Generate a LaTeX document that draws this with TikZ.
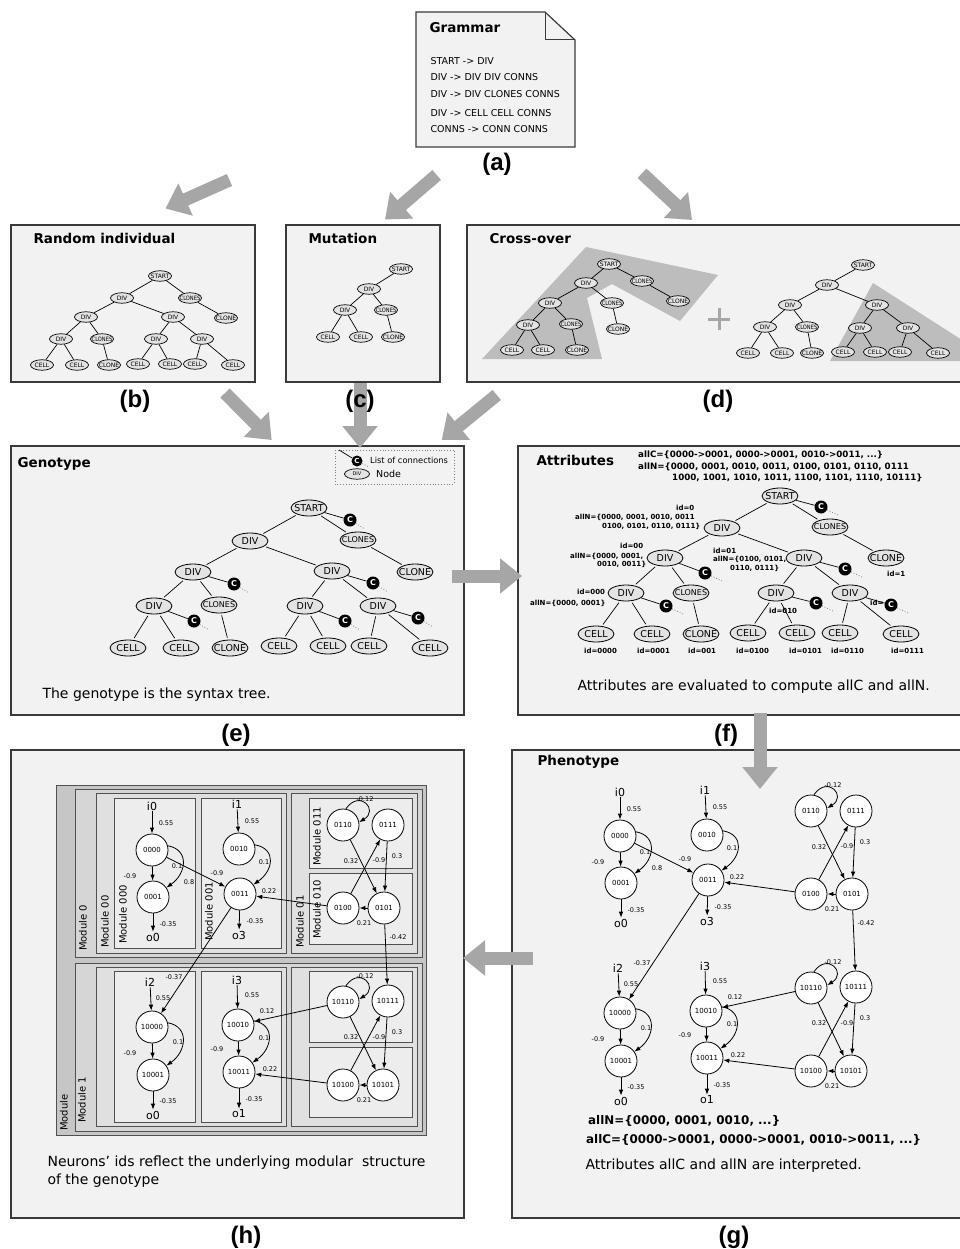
\documentclass[tikz,border=0pt]{standalone}
\usepackage{fontspec}
\usepackage{graphicx}
\setmainfont{DejaVu Sans}
\newfontfamily\panelfont{Liberation Sans}
\usetikzlibrary{arrows.meta,shapes.geometric}

\definecolor{panelbg}{HTML}{F2F2F2}
\definecolor{panelline}{HTML}{3A3A3A}
\definecolor{nodefill}{HTML}{E3E3E3}
\definecolor{flowgray}{HTML}{A6A6A6}
\definecolor{pickgray}{HTML}{BDBDBD}
\definecolor{modA}{HTML}{C6C6C6}
\definecolor{modB}{HTML}{D6D6D6}
\definecolor{modC}{HTML}{E0E0E0}
\definecolor{modD}{HTML}{EDEDED}
\definecolor{modline}{HTML}{505050}

\newcommand\fsz[1]{\fontsize{#1}{#1}\selectfont}
\newcommand\squeeze[1]{\scalebox{0.85}[1]{#1}}
% tree nodes of fixed size: the label never widens the ellipse
\newcommand\smallnd[3]{\node[smalln] (#1) at (#2) {\makebox[0pt]{#3}};}
\newcommand\bignd[3]{\node[bign] (#1) at (#2) {\makebox[0pt]{#3}};}
% connection list: black C disc hung on its parent, with a dotted tail
\newcommand\connnd[4]{%
  \node[conn] (#1) at (#2) {C};
  \draw[tedge] (#3) -- (#1);
  \path (#1) ++(#4) coordinate (#1e);
  \draw[dots] (#1) -- (#1e);}

\tikzset{
  panel/.style={draw=panelline, line width=1.3pt, fill=panelbg},
  smalln/.style={ellipse, draw=black, line width=0.7pt, fill=nodefill,
    minimum width=23pt, minimum height=10.5pt, inner sep=0pt, font=\fsz{6}},
  bign/.style={ellipse, draw=black, line width=0.8pt, fill=nodefill,
    minimum width=36pt, minimum height=16pt, inner sep=0pt, font=\fsz{9.5}},
  tedge/.style={line width=0.7pt},
  conn/.style={circle, fill=black, minimum size=13pt, inner sep=0pt,
    text=white, font=\bfseries\fsz{8}},
  dots/.style={dotted, line width=0.8pt, draw=gray},
  flow/.style={draw=flowgray, line width=13pt, -{Triangle[length=22pt,width=34pt]}},
  ptitle/.style={anchor=west, font=\bfseries\fsz{13.5}},
  pcap/.style={anchor=west, font=\fsz{14}},
  plabel/.style={font=\panelfont\bfseries\fsz{24}},
  rule/.style={anchor=west, font=\fsz{9.5}},
  attrtop/.style={anchor=west, font=\bfseries\fsz{8.7}, inner sep=0pt},
  attr/.style={anchor=west, font=\bfseries\fsz{7}, inner sep=0pt},
  neuron/.style={circle, draw=black, line width=0.8pt, fill=white,
    minimum size=32pt, inner sep=0pt, font=\fsz{7}},
  io/.style={font=\fsz{11}, inner sep=1pt},
  wt/.style={font=\fsz{6.5}, inner sep=0pt},
  syn/.style={line width=0.8pt, -{Latex[length=6pt,width=4.5pt]}},
  modbox/.style={draw=modline, line width=0.9pt},
  modlab/.style={rotate=90, anchor=west, font=\fsz{10}, inner sep=0pt},
}

% the modular recurrent network (phenotype), node names prefixed by #1
\newcommand\neuralnet[1]{%
  \foreach \nm/\x/\y in {0000/620/836, 0001/621/883, 0010/707/835, 0011/708/880,
      0110/811/811, 0111/856/811, 0100/811/894, 0101/852/894,
      10000/620/1013, 10001/621/1061, 10010/706/1011, 10011/707/1058,
      10110/811/988, 10111/856/987, 10100/811/1071, 10101/851/1071}
    \node[neuron] (#1n\nm) at (\x,\y) {\nm};
  \foreach \nm/\x/\y/\t in {i0/620/792/i0, o0/621/923/o0, i1/705/790/i1, o3/707/921/o3,
      i2/618/968/i2, o0b/621/1101/o0, i3/705/966/i3, o1/707/1100/o1}
    \node[io] (#1\nm) at (\x,\y) {\t};
  \foreach \a/\b in {i0/n0000, n0001/o0, i1/n0010, n0011/o3,
      i2/n10000, n10001/o0b, i3/n10010, n10011/o1,
      n0000/n0001, n0000/n0011, n0100/n0011, n0110/n0101, n0100/n0111,
      n0111/n0101, n0101/n0100, n0101/n10111, n0011/n10000,
      n10000/n10001, n10010/n10011, n10110/n10010, n10100/n10011,
      n10110/n10101, n10100/n10111, n10111/n10101, n10101/n10100}
    \draw[syn] (#1\a) -- (#1\b);
  \draw[syn] (#1n0000.15) .. controls +(22,4) and +(20,-14) .. (#1n0001.35);
  \draw[syn] (#1n0010.15) .. controls +(22,4) and +(20,-14) .. (#1n0011.35);
  \draw[syn] (#1n10000.15) .. controls +(22,4) and +(20,-14) .. (#1n10001.35);
  \draw[syn] (#1n10010.15) .. controls +(22,4) and +(20,-14) .. (#1n10011.35);
  \draw[syn] (#1n0110.80) .. controls +(14,-20) and +(20,-12) .. (#1n0110.10);
  \draw[syn] (#1n10110.80) .. controls +(14,-20) and +(20,-12) .. (#1n10110.10);
  \foreach \x/\y/\t [count=\k] in {634/809/0.55, 598/862/-0.9, 645/852/0.1, 657/868/0.8,
      636/910/-0.35, 720/807/0.55, 732/848/0.1, 685/859/-0.9, 737/877/0.22, 723/907/-0.35,
      833/785/-0.12, 819/847/0.32, 847/846/-0.9, 865/842/0.3, 832/909/0.21, 866/923/-0.42,
      642/963/-0.37, 631/984/0.55, 646/1028/0.1, 598/1039/-0.9, 636/1087/-0.35,
      720/981/0.55, 735/997/0.12, 732/1024/0.1, 685/1035/-0.9, 738/1055/0.22, 722/1085/-0.35,
      833/962/-0.12, 819/1023/0.32, 847/1023/-0.9, 865/1018/0.3, 832/1086/0.21}
    \node[wt] (#1w\k) at (\x,\y) {\t};
}

\begin{document}
\begin{tikzpicture}[x=1pt,y=-1pt]
\fill[white] (0,0) rectangle (960,1249);
\useasboundingbox (0,0) rectangle (960,1249);

% ---------- grammar sheet ----------
\path[draw=panelline, line width=1.2pt, fill=panelbg]
  (416,12) -- (545,12) -- (575,40) -- (575,147) -- (416,147) -- cycle;
\draw[panelline, line width=1pt] (545,12) -- (545,40) -- (575,40);
\node[ptitle] (gramT) at (426,28) {Grammar};
\node[rule] (r1) at (427,61) {START -> DIV};
\node[rule] (r2) at (427,77) {DIV -> DIV DIV CONNS};
\node[rule] (r3) at (427,94) {DIV -> DIV CLONES CONNS};
\node[rule] (r4) at (427,113) {DIV -> CELL CELL CONNS};
\node[rule] (r5) at (427,129) {CONNS -> CONN CONNS};

% ---------- panels ----------
\path[panel] (11,225) rectangle (255,382);
\path[panel] (286,225) rectangle (440,382);
\path[panel] (467,225) rectangle (965,382);
\path[panel] (11,446) rectangle (464,715);
\path[panel] (518,446) rectangle (965,715);
\path[panel] (11,750) rectangle (464,1218);
\path[panel] (512,750) rectangle (965,1218);

% ---------- flow arrows ----------
\coordinate (fa1) at (229.5,180);  \coordinate (fb1) at (165.5,208.5);
\coordinate (fa2) at (436.7,175);  \coordinate (fb2) at (385,219.5);
\coordinate (fa3) at (642,173.3);  \coordinate (fb3) at (692,220);
\coordinate (fa4) at (225,393);    \coordinate (fb4) at (271.7,440);
\coordinate (fa5) at (360,383);    \coordinate (fb5) at (360,448);
\coordinate (fa6) at (496.7,395);  \coordinate (fb6) at (441.7,440);
\coordinate (fa7) at (452,576);    \coordinate (fb7) at (522,576);
\coordinate (fa8) at (760,713);    \coordinate (fb8) at (760,789);
\coordinate (fa9) at (533,958);    \coordinate (fb9) at (463,958);
\foreach \i in {1,...,9} \draw[flow] (fa\i) -- (fb\i);

% ---------- panel letters ----------
\node[plabel] (la) at (497,164) {(a)};
\node[plabel] (lb) at (135,401) {(b)};
\node[plabel] (lc) at (360,401) {(c)};
\node[plabel] (ld) at (718,401) {(d)};
\node[plabel] (le) at (236,735) {(e)};
\node[plabel] (lf) at (726,735) {(f)};
\node[plabel] (lg) at (734,1237) {(g)};
\node[plabel] (lh) at (246,1237) {(h)};

% ---------- (b) random individual ----------
\node[ptitle] (tb) at (30,238) {Random individual};
\smallnd{rS}{160,276}{START}
\smallnd{rD1}{122,298}{DIV}
\smallnd{rCs1}{190,298}{\squeeze{CLONES}}
\smallnd{rCl1}{226,318}{CLONE}
\smallnd{rD2a}{86,317}{DIV}
\smallnd{rD2b}{173,317}{DIV}
\smallnd{rD3a}{61,339}{DIV}
\smallnd{rCs3}{102,339}{\squeeze{CLONES}}
\smallnd{rD3b}{156,339}{DIV}
\smallnd{rD3c}{202,339}{DIV}
\smallnd{rL1}{42,365}{CELL}
\smallnd{rL2}{77,365}{CELL}
\smallnd{rL3}{109,365}{CLONE}
\smallnd{rL4}{138,364}{CELL}
\smallnd{rL5}{170,364}{CELL}
\smallnd{rL6}{195,364}{CELL}
\smallnd{rL7}{233,365}{CELL}
\foreach \a/\b in {S/D1, S/Cs1, Cs1/Cl1, D1/D2a, D1/D2b, D2a/D3a, D2a/Cs3,
    D3a/L1, D3a/L2, Cs3/L3, D2b/D3b, D2b/D3c, D3b/L4, D3b/L5, D3c/L6, D3c/L7}
  \draw[tedge] (r\a) -- (r\b);

% ---------- (c) mutation ----------
\node[ptitle] (tc) at (305,238) {Mutation};
\smallnd{mS}{401,269}{START}
\smallnd{mD1}{369,289}{DIV}
\smallnd{mD2}{345,310}{DIV}
\smallnd{mCs}{386,310}{\squeeze{CLONES}}
\smallnd{mL1}{328,337}{CELL}
\smallnd{mL2}{361,337}{CELL}
\smallnd{mL3}{393,337}{CLONE}
\foreach \a/\b in {S/D1, D1/D2, D1/Cs, D2/L1, D2/L2, Cs/L3}
  \draw[tedge] (m\a) -- (m\b);

% ---------- (d) cross-over ----------
\node[ptitle] (td) at (486,239) {Cross-over};
\fill[pickgray] (482,359) -- (586,247) -- (718,275) -- (680,321) -- (612,284)
  -- (587,298) -- (602,359) -- cycle;
\fill[pickgray] (830,361) -- (873,283) -- (962,340) -- (962,361) -- cycle;
\draw[flowgray, line width=3pt] (708,319) -- (730,319) (719,308) -- (719,330);
\smallnd{xS}{609,264}{START}
\smallnd{xD1}{586,283}{DIV}
\smallnd{xCs1}{642,281}{\squeeze{CLONES}}
\smallnd{xCl1}{678,301}{CLONE}
\smallnd{xCs2}{612,303}{\squeeze{CLONES}}
\smallnd{xCl2}{618,329}{CLONE}
\smallnd{xD2}{550,303}{DIV}
\smallnd{xD3}{528,325}{DIV}
\smallnd{xCs3}{571,324}{\squeeze{CLONES}}
\smallnd{xL1}{512,350}{CELL}
\smallnd{xL2}{543,350}{CELL}
\smallnd{xL3}{577,350}{CLONE}
\foreach \a/\b in {S/D1, S/Cs1, Cs1/Cl1, D1/D2, D1/Cs2, Cs2/Cl2, D2/D3, D2/Cs3,
    D3/L1, D3/L2, Cs3/L3}
  \draw[tedge] (x\a) -- (x\b);
\smallnd{yS}{863,265}{START}
\smallnd{yD1}{827,285}{DIV}
\smallnd{yD2a}{790,305}{DIV}
\smallnd{yD2b}{877,305}{DIV}
\smallnd{yD3a}{765,327}{DIV}
\smallnd{yCs3}{807,327}{\squeeze{CLONES}}
\smallnd{yD3b}{860,328}{DIV}
\smallnd{yD3c}{908,328}{DIV}
\smallnd{yL1}{748,353}{CELL}
\smallnd{yL2}{782,353}{CELL}
\smallnd{yL3}{812,353}{CLONE}
\smallnd{yL4}{843,352}{CELL}
\smallnd{yL5}{875,352}{CELL}
\smallnd{yL6}{900,352}{CELL}
\smallnd{yL7}{938,353}{CELL}
\foreach \a/\b in {S/D1, D1/D2a, D1/D2b, D2a/D3a, D2a/Cs3, D3a/L1, D3a/L2, Cs3/L3,
    D2b/D3b, D2b/D3c, D3b/L4, D3b/L5, D3c/L6, D3c/L7}
  \draw[tedge] (y\a) -- (y\b);

% ---------- (e) genotype ----------
\node[ptitle] (te) at (14,464) {Genotype};
\draw[gray, dotted, line width=0.8pt] (335,450) rectangle (454,484);
\coordinate (legS) at (339,450);
\node[conn, minimum size=11pt, font=\bfseries\fsz{7}] (legC) at (357,461) {C};
\draw[tedge] (legS) -- (legC);
\path (legC) ++(12,6) coordinate (legCe);
\draw[dots] (legC) -- (legCe);
\node[anchor=west, font=\fsz{8.3}, inner sep=0pt] (legT1) at (370,460) {List of connections};
\node[smalln, minimum width=25pt, font=\fsz{5}] (legN) at (357,474) {\makebox[0pt]{DIV}};
\node[anchor=west, font=\fsz{9.5}, inner sep=0pt] (legT2) at (376,474) {Node};

\bignd{gS}{309,508}{START}
\bignd{gD1}{250,541}{DIV}
\bignd{gCs1}{358,540}{\fsz{8}CLONES}
\bignd{gCl1}{415,572}{CLONE}
\bignd{gD2a}{193,572}{DIV}
\bignd{gD2b}{332,571}{DIV}
\bignd{gD3a}{154,606}{DIV}
\bignd{gCs3}{219,605}{\fsz{8}CLONES}
\bignd{gD3b}{305,606}{DIV}
\bignd{gD3c}{378,606}{DIV}
\bignd{gL1}{128,648}{CELL}
\bignd{gL2}{181,648}{CELL}
\bignd{gL3}{230,648}{CLONE}
\bignd{gL4}{279,646}{CELL}
\bignd{gL5}{328,646}{CELL}
\bignd{gL6}{369,646}{CELL}
\bignd{gL7}{430,648}{CELL}
\foreach \a/\b in {S/D1, S/Cs1, Cs1/Cl1, D1/D2a, D1/D2b, D2a/D3a, D2a/Cs3,
    D3a/L1, D3a/L2, Cs3/L3, D2b/D3b, D2b/D3c, D3b/L4, D3b/L5, D3c/L6, D3c/L7}
  \draw[tedge, shorten <=2pt, shorten >=2pt] (g\a) -- (g\b);
\connnd{gC1}{350,520}{gS}{15,9}
\connnd{gC2}{234,584}{gD2a}{15,9}
\connnd{gC3}{194,621}{gD3a}{15,9}
\connnd{gC4}{373,583}{gD2b}{15,9}
\connnd{gC5}{345,621}{gD3b}{15,9}
\connnd{gC6}{418,618}{gD3c}{15,9}
\node[pcap] (ce) at (39,695) {The genotype is the syntax tree.};

% ---------- (f) attributes ----------
\node[ptitle] (tf) at (533,460) {Attributes};
\node[attrtop] (fallC) at (638,455) {allC=\{0000->0001, 0000->0001, 0010->0011, ...\}};
\node[attrtop] (fallN1) at (638,467) {allN=\{0000, 0001, 0010, 0011, 0100, 0101, 0110, 0111};
\node[attrtop] (fallN2) at (672,478) {1000, 1001, 1010, 1011, 1100, 1101, 1110, 10111\}};
\node[attr] (f1) at (676,508) {id=0};
\node[attr] (f2) at (575,517) {allN=\{0000, 0001, 0010, 0011};
\node[attr] (f3) at (602,526) {0100, 0101, 0110, 0111\}};
\node[attr] (f4) at (620,546) {id=00};
\node[attr] (f5) at (570,556) {allN=\{0000, 0001,};
\node[attr] (f6) at (597,564) {0010, 0011\}};
\node[attr] (f7) at (713,551) {id=01};
\node[attr] (f8) at (713,559) {allN=\{0100, 0101,};
\node[attr] (f9) at (730,568) {0110, 0111\}};
\node[attr] (f10) at (887,574) {id=1};
\node[attr] (f11) at (577,592) {id=000};
\node[attr] (f12) at (530,603) {allN=\{0000, 0001\}};
\node[attr] (f13) at (769,611) {id=010};
\node[attr] (f14) at (870,603) {id=};
\foreach \x/\t [count=\k] in {584/id=0000, 637/id=0001, 688/id=001, 736/id=0100,
    789/id=0101, 831/id=0110, 891/id=0111}
  \node[attr] (fid\k) at (\x,651) {\t};

\bignd{aS}{780,496}{START}
\bignd{aD1}{722,528}{DIV}
\bignd{aCs1}{830,527}{\fsz{8}CLONES}
\bignd{aCl1}{886,558}{CLONE}
\bignd{aD2a}{665,558}{DIV}
\bignd{aD2b}{804,558}{DIV}
\bignd{aD3a}{626,593}{DIV}
\bignd{aCs3}{691,593}{\fsz{8}CLONES}
\bignd{aD3b}{776,593}{DIV}
\bignd{aD3c}{850,593}{DIV}
\bignd{aL1}{596,634}{CELL}
\bignd{aL2}{652,634}{CELL}
\bignd{aL3}{701,634}{CLONE}
\bignd{aL4}{748,633}{CELL}
\bignd{aL5}{797,633}{CELL}
\bignd{aL6}{840,633}{CELL}
\bignd{aL7}{901,634}{CELL}
\foreach \a/\b in {S/D1, S/Cs1, Cs1/Cl1, D1/D2a, D1/D2b, D2a/D3a, D2a/Cs3,
    D3a/L1, D3a/L2, Cs3/L3, D2b/D3b, D2b/D3c, D3b/L4, D3b/L5, D3c/L6, D3c/L7}
  \draw[tedge, shorten <=2pt, shorten >=2pt] (a\a) -- (a\b);
\connnd{aC1}{821,507}{aS}{17,8}
\connnd{aC2}{705,573}{aD2a}{17,8}
\connnd{aC3}{666,606}{aD3a}{17,8}
\connnd{aC4}{845,569}{aD2b}{17,8}
\connnd{aC5}{816,603}{aD3b}{17,8}
\connnd{aC6}{891,605}{aD3c}{17,8}
\node[pcap] (cf) at (574,687) {Attributes are evaluated to compute allC and allN.};

% ---------- (g) phenotype ----------
\node[ptitle] (tg) at (534,762) {Phenotype};
\neuralnet{g}
\node[anchor=west, font=\bfseries\fsz{11.9}, inner sep=0pt] (gallN) at (588,1121) {allN=\{0000, 0001, 0010, ...\}};
\node[anchor=west, font=\bfseries\fsz{11.9}, inner sep=0pt] (gallC) at (586,1140) {allC=\{0000->0001, 0000->0001, 0010->0011, ...\}};
\node[pcap] (cg) at (582,1166) {Attributes allC and allN are interpreted.};

% ---------- (h) modular network ----------
\path[modbox, fill=modA] (56,785) rectangle (426,1135);
\path[modbox, fill=modB] (75,789) rectangle (422,957);
\path[modbox, fill=modB] (75,963) rectangle (422,1131);
\path[modbox, fill=modC] (96,793) rectangle (286,953);
\path[modbox, fill=modC] (291,793) rectangle (417,953);
\path[modbox, fill=modC] (96,967) rectangle (286,1126);
\path[modbox, fill=modC] (291,967) rectangle (417,1126);
\path[modbox, fill=modD] (114,798) rectangle (195,948);
\path[modbox, fill=modD] (201,798) rectangle (281,948);
\path[modbox, fill=modD] (309,798) rectangle (412,868);
\path[modbox, fill=modD] (309,873) rectangle (412,944);
\path[modbox, fill=modD] (114,971) rectangle (195,1122);
\path[modbox, fill=modD] (201,971) rectangle (281,1122);
\path[modbox, fill=modD] (309,971) rectangle (412,1042);
\path[modbox, fill=modD] (309,1047) rectangle (412,1117);
\node[modlab] (mM) at (64,1131) {Module};
\node[modlab] (mM0) at (83,951) {Module 0};
\node[modlab] (mM1) at (82,1123) {Module 1};
\node[modlab] (mM00) at (105,948) {Module 00};
\node[modlab] (mM000) at (123,944) {Module 000};
\node[modlab] (mM001) at (209,941) {Module 001};
\node[modlab] (mM01) at (300,948) {Module 01};
\node[modlab] (mM011) at (317,866) {Module 011};
\node[modlab] (mM010) at (317,939) {Module 010};
\begin{scope}[shift={(-468,14)}]
  \neuralnet{h}
\end{scope}
\node[pcap] (ch1) at (44,1163) {Neurons' ids reflect the underlying modular~ structure};
\node[pcap] (ch2) at (44,1181) {of the genotype};
\end{tikzpicture}
\end{document}
